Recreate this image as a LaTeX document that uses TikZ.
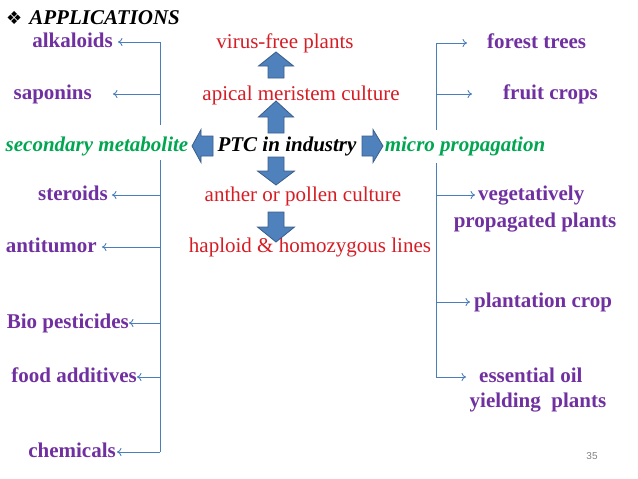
\documentclass[tikz,border=0pt]{standalone}
\usepackage{fontspec}
\setmainfont{Liberation Serif}
\setsansfont{Liberation Sans}
\newfontfamily\symfont{DejaVu Sans}
\usetikzlibrary{arrows.meta}
\definecolor{ptcpurple}{RGB}{112,48,160}
\definecolor{ptcgreen}{RGB}{0,166,80}
\definecolor{ptcred}{RGB}{214,28,36}
\definecolor{ptcblue}{RGB}{79,129,189}
\definecolor{ptcedge}{RGB}{56,93,138}
\definecolor{ptcline}{RGB}{74,126,187}

\begin{document}
\begin{tikzpicture}[x=1pt,y=-1pt,
every node/.style={inner sep=0pt,text height=15pt,text depth=4pt,font=\fontsize{21}{24}\selectfont},
item/.style={text=ptcpurple,font=\fontsize{21}{24}\selectfont\bfseries},
method/.style={text=ptcred},
branch/.style={text=ptcgreen,font=\fontsize{21}{24}\selectfont\bfseries\itshape},
brace/.style={ptcline,line width=0.9pt},
conn/.style={ptcline,line width=0.9pt,-{To[length=4.5pt,width=8pt]}},
blockfill/.style={fill=ptcblue,draw=ptcedge,line width=0.8pt,line join=miter},
pics/fatarrow/.style n args={4}{code={
  \path[blockfill] (-#1/2,-#3/2) -- (#1/2-#4,-#3/2) -- (#1/2-#4,-#2/2) -- (#1/2,0)
     -- (#1/2-#4,#2/2) -- (#1/2-#4,#3/2) -- (-#1/2,#3/2) -- cycle;}}]
\useasboundingbox (0,0) rectangle (638,479);

\node[anchor=west,font=\fontsize{21}{24}\selectfont\bfseries\itshape] (title) at (6,19)
  {{\symfont\fontsize{18}{20}\selectfont ❖}\hspace{7pt}APPLICATIONS};

\node[branch] (ptc) at (287,146) {\color{black}PTC in industry};
\node[branch] (sec) at (97,146) {secondary metabolite};
\node[branch] (micro) at (465,146) {micro propagation};

\node[method] (virus) at (285,43) {virus-free plants};
\node[method] (apical) at (301,95) {apical meristem culture};
\node[method] (anther) at (303,196) {anther or pollen culture};
\node[method] (haploid) at (310,247) {haploid \& homozygous lines};

\node[item,anchor=east,inner xsep=5pt] (alk) at (118,42) {alkaloids};
\node[item,anchor=east,inner xsep=21pt] (sap) at (113,94) {saponins};
\node[item,anchor=east,inner xsep=4pt] (ster) at (112,195) {steroids};
\node[item,anchor=east,inner xsep=5pt] (anti) at (102,247) {antitumor};
\node[item,anchor=east] (bio) at (129,323) {Bio pesticides};
\node[item,anchor=east] (food) at (137,377) {food additives};
\node[item,anchor=east,inner xsep=1pt] (chem) at (117,452) {chemicals};

\node[item,anchor=west,inner xsep=20pt] (forest) at (467,43) {forest trees};
\node[item,anchor=west,inner xsep=31pt] (fruit) at (472,94) {fruit crops};
\node[item,anchor=west,inner xsep=3pt] (veg) at (475,195) {vegetatively};
\node[item] (vegb) at (535,222) {propagated plants};
\node[item,anchor=west,inner xsep=4pt] (plant) at (470,302) {plantation crop};
\node[item,anchor=west,inner xsep=13pt] (oil) at (466,377) {essential oil};
\node[item] (oilb) at (538,402) {yielding\ \ plants};

\node[text=gray,font=\sffamily\fontsize{10}{12}\selectfont,text height=7pt,text depth=0pt] (page) at (592,456) {35};

\coordinate (lt) at (160,42);
\coordinate (lm) at (160,125);
\coordinate (ln) at (160,160);
\coordinate (lb) at (160,452);
\coordinate (rt) at (436,43);
\coordinate (rm) at (436,130);
\coordinate (rn) at (436,163);
\coordinate (rb) at (436,377);
\draw[brace] (lt) -- (lm) (ln) -- (lb);
\draw[brace] (rt) -- (rm) (rn) -- (rb);

\foreach \n in {alk,sap,ster,anti,bio,food,chem}
  \draw[conn] (\n.east -| lt) -- (\n.east);
\foreach \n in {forest,fruit,veg,plant,oil}
  \draw[conn] (\n.west -| rt) -- (\n.west);

\pic[rotate=90] (up1) at (276,65) {fatarrow={26}{35}{16}{14}};
\pic[rotate=90] (up2) at (276,117) {fatarrow={32}{35}{16}{16}};
\pic[rotate=-90] (down1) at (276,171) {fatarrow={28}{37}{16}{14}};
\pic[rotate=-90] (down2) at (276,227) {fatarrow={30}{37}{16}{15}};
\pic[rotate=180] (left) at (202.5,146) {fatarrow={21}{33}{20}{9}};
\pic (right) at (372.5,146) {fatarrow={21}{33}{20}{10}};
\end{tikzpicture}
\end{document}
